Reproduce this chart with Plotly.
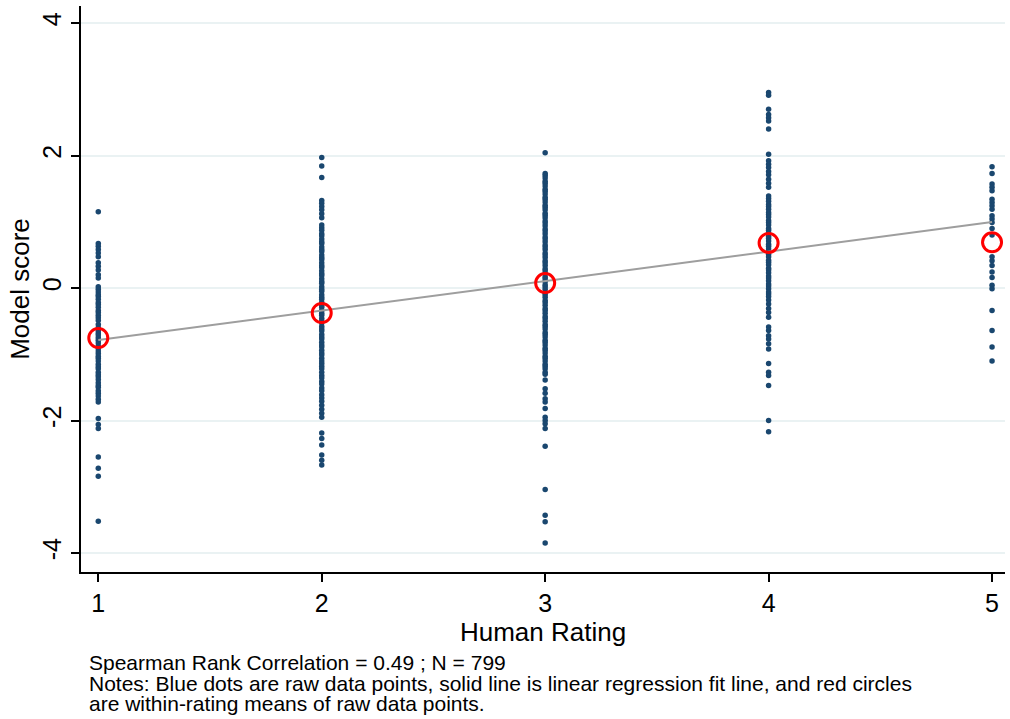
import plotly.graph_objects as go

# ---- data ----
ratings = [1, 2, 3, 4, 5]

scores_r1 = [1.15, 0.67, 0.63, 0.58, 0.53, 0.47, 0.38, 0.33, 0.27, 0.20, 0.15,
             0.02, -0.02, -0.06, -0.10, -0.13, -0.17, -0.22, -0.25, -0.29, -0.34,
             -0.37, -0.41, -0.45, -0.49, -0.55, -0.60, -0.64, -0.68, -0.71, -0.75,
             -0.79, -0.83, -0.88, -0.91, -0.95, -0.99, -1.03, -1.06, -1.10, -1.15,
             -1.19, -1.22, -1.27, -1.31, -1.34, -1.38, -1.43, -1.47, -1.50, -1.55,
             -1.59, -1.63, -1.68, -1.72,
             -1.97, -2.06, -2.12, -2.55, -2.72, -2.84, -3.52]

scores_r2 = [1.97, 1.84, 1.67, 1.32, 1.28, 1.23, 1.18, 1.12, 1.06,
             0.95, 0.91, 0.87, 0.82, 0.79, 0.74, 0.70, 0.67, 0.62, 0.58, 0.55,
             0.50, 0.46, 0.43, 0.38, 0.34, 0.31, 0.26, 0.22, 0.19, 0.14, 0.10,
             0.07, 0.02, -0.02, -0.05, -0.10, -0.14, -0.17, -0.22, -0.26, -0.29,
             -0.34, -0.38, -0.41, -0.46, -0.50, -0.53, -0.58, -0.62, -0.65, -0.70,
             -0.74, -0.77, -0.82, -0.86, -0.89, -0.94, -0.98, -1.01, -1.06, -1.10,
             -1.14, -1.18, -1.22, -1.27, -1.32, -1.36, -1.41, -1.45, -1.51, -1.55,
             -1.61, -1.66, -1.71, -1.77, -1.83, -1.89, -1.95,
             -2.19, -2.27, -2.37, -2.52, -2.60, -2.67]

scores_r3 = [2.04,
             1.73, 1.70, 1.66, 1.61, 1.58, 1.54, 1.49, 1.46, 1.42, 1.37, 1.34,
             1.30, 1.25, 1.22, 1.18, 1.13, 1.10, 1.06, 1.01, 0.98, 0.94, 0.89,
             0.86, 0.82, 0.77, 0.74, 0.70, 0.65, 0.62, 0.58, 0.53, 0.50, 0.46,
             0.41, 0.38, 0.34, 0.29, 0.26, 0.22, 0.17, 0.14, 0.10, 0.05, 0.02,
             -0.02, -0.07, -0.10, -0.14, -0.19, -0.22, -0.26, -0.31, -0.34, -0.38,
             -0.43, -0.46, -0.50, -0.55, -0.58, -0.62, -0.67, -0.70, -0.74, -0.79,
             -0.82, -0.86, -0.91, -0.94, -0.98, -1.03, -1.06, -1.10, -1.15, -1.18,
             -1.22, -1.27, -1.30,
             -1.39, -1.52, -1.59, -1.67, -1.72, -1.82, -1.95, -2.00, -2.05, -2.12,
             -2.39, -3.04, -3.43, -3.53, -3.85]

scores_r4 = [2.95, 2.91, 2.70, 2.62, 2.57, 2.52, 2.40, 2.02, 1.92, 1.87, 1.82,
             1.76, 1.71, 1.64, 1.58, 1.52,
             1.39, 1.35, 1.31, 1.26, 1.23, 1.19, 1.14, 1.11, 1.07, 1.02, 0.99,
             0.95, 0.90, 0.87, 0.83, 0.78, 0.75, 0.71, 0.66, 0.63, 0.59, 0.54,
             0.51, 0.47, 0.42, 0.39, 0.35, 0.30, 0.27, 0.23, 0.18, 0.15, 0.11,
             0.06, 0.03, -0.01, -0.06, -0.09, -0.13, -0.18,
             -0.24, -0.31, -0.37, -0.44, -0.59, -0.64, -0.72, -0.77, -0.84, -0.92,
             -1.14, -1.27, -1.32, -1.47, -2.00, -2.17]

scores_r5 = [1.83, 1.73, 1.57, 1.52, 1.47, 1.34, 1.29, 1.24, 1.19, 1.09, 1.04,
             0.99, 0.90, 0.80, 0.47, 0.41, 0.34, 0.24, 0.16, 0.04, -0.01, -0.34,
             -0.64, -0.89, -1.10]

# within-rating means (red circles)
rating_means = [-0.755, -0.377, 0.075, 0.68, 0.69]

# linear fit: intercept, slope
fit_intercept = -1.23
fit_slope = 0.445

x_ticks = [1, 2, 3, 4, 5]
y_ticks = [-4, -2, 0, 2, 4]

x_title = "Human Rating"
y_title = "Model score"
note_lines = [
    "Spearman Rank Correlation = 0.49 ; N = 799",
    "Notes: Blue dots are raw data points, solid line is linear regression fit line, and red circles",
    "are within-rating means of raw data points.",
]

# ---- figure ----
FONT = "Liberation Sans, Arial, sans-serif"
all_scores = [scores_r1, scores_r2, scores_r3, scores_r4, scores_r5]
xs, ys = [], []
for r, s in zip(ratings, all_scores):
    xs.extend([r] * len(s))
    ys.extend(s)

fig = go.Figure()
fig.add_trace(go.Scatter(
    x=xs, y=ys, mode="markers",
    marker=dict(color="#1a476f", size=5.5, line=dict(width=0)),
    showlegend=False, hoverinfo="skip"))

fit_x = [ratings[0], ratings[-1]]
fit_y = [fit_intercept + fit_slope * v for v in fit_x]
fig.add_trace(go.Scatter(
    x=fit_x, y=fit_y, mode="lines",
    line=dict(color="#9e9e9e", width=2),
    showlegend=False, hoverinfo="skip"))

fig.add_trace(go.Scatter(
    x=ratings, y=rating_means, mode="markers",
    marker=dict(symbol="circle-open", size=19, color="#ff0000",
                line=dict(width=3, color="#ff0000")),
    showlegend=False, hoverinfo="skip"))

L, R, T, B = 81, 5, 6, 147
W, H = 1010, 719
fig.update_layout(
    width=W, height=H,
    margin=dict(l=L, r=R, t=T, b=B, pad=0),
    paper_bgcolor="white", plot_bgcolor="white",
    font=dict(family=FONT, color="black"),
    xaxis=dict(
        range=[0.9226, 5.058], tickvals=x_ticks, ticktext=[str(v) for v in x_ticks],
        showgrid=False, zeroline=False, showline=True, linecolor="black", linewidth=1.5,
        ticks="outside", ticklen=8, tickwidth=1.5, tickcolor="black",
        tickfont=dict(size=25, family=FONT),
        title=dict(text=x_title, font=dict(size=26, family=FONT), standoff=4),
    ),
    yaxis=dict(
        range=[-4.287, 4.257], tickvals=y_ticks, ticktext=[str(v) for v in y_ticks],
        showgrid=True, gridcolor="#eaf2f3", gridwidth=2,
        zeroline=False, showline=True, linecolor="black", linewidth=1.5,
        ticks="outside", ticklen=8, tickwidth=1.5, tickcolor="black",
        tickangle=-90,
        tickfont=dict(size=25, family=FONT),
        title=dict(text=y_title, font=dict(size=26, family=FONT), standoff=1),
    ),
)

plot_w = W - L - R
plot_h = H - T - B
note_px_x = 87
note_px_y = [662, 683, 704]
for txt, py in zip(note_lines, note_px_y):
    fig.add_annotation(
        text=txt, xref="paper", yref="paper",
        x=(note_px_x - L) / plot_w, y=(H - B - py) / plot_h,
        xanchor="left", yanchor="middle", showarrow=False,
        font=dict(size=21, family=FONT, color="black"), align="left")

fig.write_html("out.html", include_plotlyjs=True,
               config={"displayModeBar": False},
               post_script="document.body.style.margin='0';document.body.style.overflow='hidden';")
